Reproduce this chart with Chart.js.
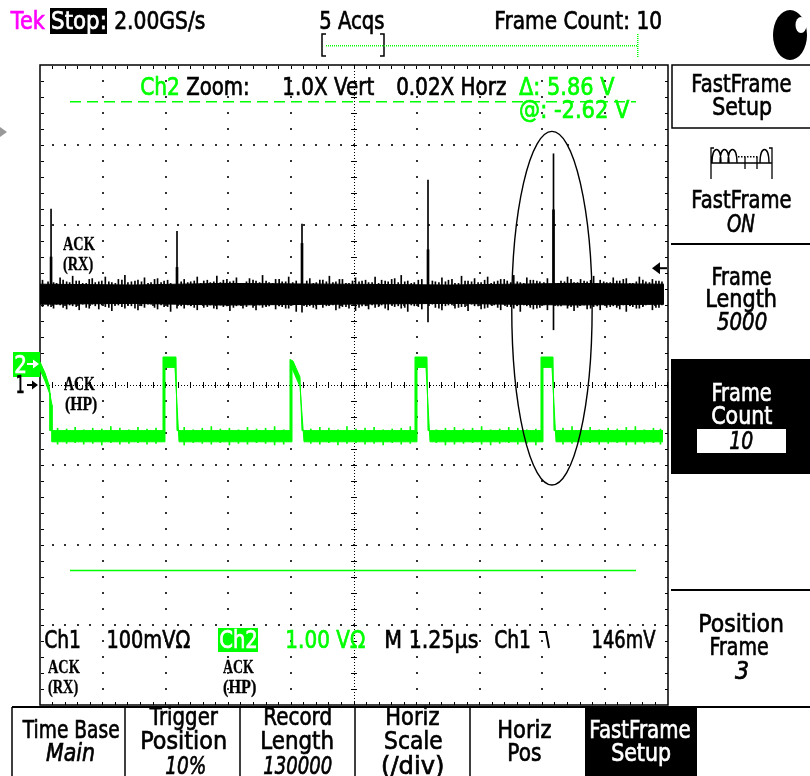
<!DOCTYPE html>
<html>
<head>
<meta charset="utf-8">
<script src="https://cdn.jsdelivr.net/npm/chart.js@4.4.0/dist/chart.umd.min.js"></script>
<style>
  html, body { margin: 0; padding: 0; background: #fff; }
  canvas { display: block; }
</style>
</head>
<body>
<canvas id="scope" width="810" height="776"></canvas>
<script>
const GREEN = '#00ff00';

// horizontal divisions, µs (1.25 µs/div, trigger at 10 %)
const timeDivs = [-1.25, 0, 1.25, 2.5, 3.75, 5, 6.25, 7.5, 8.75, 10, 11.25];
// vertical divisions for Ch1, mV (100 mV/div)
const ch1Divs = [-400, -300, -200, -100, 0, 100, 200, 300, 400];
// Ch2 screen range, V (1 V/div, ground 0.3 div above centre)
const ch2Range = [-4.3, 3.7];

// Ch1 (ACK RX) : noisy band, spikes, trigger level
const ch1CoreTime = [-1.25, 0.6, 2.4, 4.7, 6.9, 9.3, 11.17];
const ch1CoreHigh = [126, 125, 127, 126, 125, 127, 126];
const ch1CoreLow = [101, 102, 100, 101, 102, 100, 101];

const ch1HairTime = [
  -1.20, -0.98, -0.85, -0.72, -0.60, -0.47, -0.33, -0.21, -0.08, 0.05,
  0.18, 0.31, 0.44, 0.57, 0.70, 0.83, 0.96, 1.09, 1.22, 1.35,
  1.62, 1.75, 1.88, 2.01, 2.14, 2.27, 2.40, 2.53, 2.66, 2.79,
  2.92, 3.05, 3.18, 3.31, 3.44, 3.57, 3.70, 3.85, 4.12, 4.25,
  4.38, 4.51, 4.64, 4.77, 4.90, 5.03, 5.16, 5.29, 5.42, 5.55,
  5.68, 5.81, 5.94, 6.07, 6.20, 6.35, 6.62, 6.75, 6.88, 7.01,
  7.14, 7.27, 7.40, 7.53, 7.66, 7.79, 7.92, 8.05, 8.18, 8.31,
  8.44, 8.57, 8.70, 8.85, 9.12, 9.25, 9.38, 9.51, 9.64, 9.77,
  9.90, 10.03, 10.16, 10.29, 10.42, 10.55, 10.68, 10.81, 10.94, 11.07,
];
const ch1HairHigh = [
  131, 128, 134, 129, 136, 130, 127, 133, 129, 135,
  128, 132, 137, 129, 131, 134, 128, 133, 130, 127,
  132, 129, 135, 130, 128, 136, 131, 129, 134, 127,
  133, 130, 137, 128, 132, 129, 135, 130, 133, 128,
  131, 136, 129, 132, 127, 134, 130, 128, 135, 131,
  129, 133, 137, 130, 128, 132, 129, 134, 131, 127,
  136, 130, 133, 128, 135, 129, 132, 130, 137, 128,
  134, 131, 129, 133, 130, 135, 128, 132, 129, 136,
  131, 128, 134, 130, 133, 127, 135, 129, 132, 130,
];
const ch1HairLow = [
  98, 96, 100, 95, 99, 94, 97, 101, 95, 98,
  93, 100, 96, 99, 94, 97, 101, 95, 98, 92,
  96, 99, 94, 97, 100, 95, 98, 93, 99, 96,
  101, 94, 97, 99, 95, 98, 96, 92, 99, 95,
  97, 100, 94, 98, 96, 93, 99, 95, 97, 100,
  94, 98, 96, 92, 99, 95, 97, 94, 100, 96,
  98, 93, 99, 95, 97, 100, 94, 98, 96, 92,
  99, 95, 97, 94, 99, 96, 93, 100, 95, 98,
  94, 97, 99, 95, 92, 98, 96, 100, 94, 97,
];

// finer, shorter noise between the hairs above
const ch1FuzzTime = [
  -1.09, -0.92, -0.79, -0.66, -0.53, -0.40, -0.27, -0.15, -0.02, 0.12,
  0.25, 0.38, 0.50, 0.64, 0.77, 0.90, 1.03, 1.16, 1.29, 1.56,
  1.69, 1.82, 1.95, 2.08, 2.21, 2.34, 2.47, 2.60, 2.73, 2.86,
  2.99, 3.12, 3.25, 3.38, 3.51, 3.64, 3.78, 4.06, 4.19, 4.32,
  4.45, 4.58, 4.71, 4.84, 4.97, 5.10, 5.23, 5.36, 5.49, 5.62,
  5.75, 5.88, 6.01, 6.14, 6.28, 6.56, 6.69, 6.82, 6.95, 7.08,
  7.21, 7.34, 7.47, 7.60, 7.73, 7.86, 7.99, 8.12, 8.25, 8.38,
  8.51, 8.64, 8.78, 9.06, 9.19, 9.32, 9.45, 9.58, 9.71, 9.84,
  9.97, 10.10, 10.23, 10.36, 10.49, 10.62, 10.75, 10.88, 11.01, 11.13,
];
const ch1FuzzHigh = [
  129, 127, 131, 128, 130, 127, 132, 128, 130, 129,
  127, 131, 128, 130, 129, 127, 132, 128, 131, 129,
  128, 130, 127, 131, 129, 128, 132, 130, 127, 129,
  131, 128, 130, 127, 132, 129, 128, 130, 127, 131,
  129, 128, 132, 127, 130, 129, 131, 128, 127, 130,
  132, 128, 129, 127, 131, 130, 128, 129, 132, 127,
  130, 129, 128, 131, 127, 130, 132, 128, 129, 127,
  131, 130, 128, 127, 129, 132, 128, 130, 131, 127,
  129, 128, 130, 132, 127, 129, 131, 128, 130, 129,
];
const ch1FuzzLow = [
  99, 101, 97, 100, 98, 101, 96, 99, 100, 97,
  101, 98, 100, 96, 99, 101, 97, 100, 98, 99,
  100, 97, 101, 98, 96, 100, 99, 97, 101, 98,
  97, 100, 98, 101, 99, 96, 100, 98, 97, 101,
  99, 100, 96, 98, 101, 97, 99, 100, 98, 96,
  101, 99, 97, 100, 98, 101, 96, 99, 100, 97,
  98, 101, 99, 96, 100, 97, 101, 98, 99, 100,
  97, 96, 100, 99, 101, 98, 97, 100, 96, 99,
  101, 98, 97, 100, 99, 96, 98, 101, 97, 100,
];

const ch1SpikeTime = [-1.03, 1.477, 3.965, 6.473, 8.971];
const ch1SpikePeak = [220, 192, 201, 256, 289];
const ch1SpikeBody = [160, 147, 177, 169, 219];
const ch1SpikeBase = [118, 118, 118, 118, 118];
const ch1SpikeTrough = [98, 96, 91, 79, 69];
const ch1TriggerLevel = 146;

// Ch2 (ACK HP) : pulse train drawn as upper and lower edge of the trace
const ch2TopTime = [-1.25, -1.15, -1.071, -1.051, -1.051, 1.198, 1.198, 1.457, 1.477, 3.726, 3.726, 3.786, 3.925, 3.965, 6.214, 6.214, 6.453, 6.473, 8.722, 8.722, 8.961, 8.981, 11.15];
const ch2TopLevel = [-0.01, -0.15, -0.30, -0.40, -0.87, -0.87, 0.05, 0.05, -0.87, -0.87, 0.02, 0.0, -0.2, -0.87, -0.87, 0.05, 0.05, -0.87, -0.87, 0.05, 0.05, -0.87, -0.87];
const ch2BottomTime = [-1.25, -1.15, -1.051, -1.011, -1.011, 1.238, 1.238, 1.437, 1.517, 3.766, 3.766, 3.925, 4.005, 6.254, 6.254, 6.433, 6.513, 8.762, 8.762, 8.941, 9.021, 11.15];
const ch2BottomLevel = [-0.11, -0.25, -0.42, -0.55, -1.01, -1.01, -0.08, -0.08, -1.01, -1.01, -0.09, -0.32, -1.01, -1.01, -0.08, -0.08, -1.01, -1.01, -0.08, -0.08, -1.01, -1.01];

const ch2HairTime = [
  -0.90, -0.72, -0.55, -0.38, -0.20, -0.02, 0.16, 0.34, 0.52, 0.70, 0.88, 1.06,
  1.62, 1.80, 1.98, 2.16, 2.34, 2.52, 2.70, 2.88, 3.06, 3.24, 3.42, 3.60,
  4.14, 4.32, 4.50, 4.68, 4.86, 5.04, 5.22, 5.40, 5.58, 5.76, 5.94, 6.12,
  6.64, 6.82, 7.00, 7.18, 7.36, 7.54, 7.72, 7.90, 8.08, 8.26, 8.44, 8.62,
  9.16, 9.34, 9.52, 9.70, 9.88, 10.06, 10.24, 10.42, 10.60, 10.78, 10.96, 11.10,
];
const ch2HairHigh = [
  -0.84, -0.85, -0.83, -0.86, -0.84, -0.85, -0.82, -0.84, -0.86, -0.83, -0.85, -0.84,
  -0.83, -0.86, -0.84, -0.82, -0.85, -0.84, -0.86, -0.83, -0.85, -0.84, -0.82, -0.86,
  -0.85, -0.83, -0.84, -0.86, -0.82, -0.85, -0.84, -0.83, -0.86, -0.85, -0.84, -0.82,
  -0.86, -0.84, -0.83, -0.85, -0.84, -0.82, -0.86, -0.85, -0.83, -0.84, -0.86, -0.85,
  -0.84, -0.82, -0.85, -0.83, -0.86, -0.84, -0.85, -0.83, -0.82, -0.86, -0.84, -0.85,
];
const ch2HairLow = [
  -1.04, -1.03, -1.02, -1.04, -1.03, -1.05, -1.02, -1.04, -1.03, -1.02, -1.04, -1.03,
  -1.05, -1.02, -1.03, -1.04, -1.02, -1.05, -1.03, -1.04, -1.02, -1.03, -1.05, -1.04,
  -1.03, -1.04, -1.02, -1.05, -1.03, -1.02, -1.04, -1.03, -1.05, -1.02, -1.04, -1.03,
  -1.02, -1.05, -1.04, -1.03, -1.02, -1.04, -1.05, -1.03, -1.02, -1.04, -1.03, -1.05,
  -1.04, -1.03, -1.05, -1.02, -1.04, -1.03, -1.02, -1.05, -1.04, -1.03, -1.02, -1.04,
];

// Ch2 cursors: Δ 5.86 V, @ -2.62 V
const cursorLevels = [3.24, -2.62];
const cursorSpan = [-0.653, 10.613];

// ----------------------------------------------------------------

const pts = (xs, ys) => xs.map((x, i) => ({ x, y: ys[i] }));
const bars = (xs, hi, lo) => xs.map((x, i) => ({ x, y: [lo[i], hi[i]] }));

function trace(data, color, yAxisID, extra = {}) {
  return { type: 'line', data, yAxisID, borderColor: color, backgroundColor: color, borderWidth: 1, pointRadius: 0, fill: false, ...extra };
}

function hair(data, color, yAxisID, w) {
  return { type: 'bar', data, yAxisID, backgroundColor: color, borderWidth: 0, barThickness: w, grouped: false };
}

// text squeezed to the width it has on the scope screen
function fit(ctx, s, x0, x1, base, o = {}) {
  const size = o.size || 24;
  const fam = o.serif ? '"Liberation Serif"' : '"DejaVu Sans"';
  const color = o.color || '#000';
  ctx.save();
  ctx.font = `${o.italic ? 'italic ' : ''}${o.bold ? 'bold ' : ''}${size}px ${fam}`;
  ctx.fillStyle = color;
  ctx.strokeStyle = color;
  ctx.lineWidth = o.serif ? 0.3 : 0.7;
  ctx.textAlign = 'left';
  ctx.textBaseline = 'alphabetic';
  const m = ctx.measureText(s);
  const ink = m.actualBoundingBoxLeft + m.actualBoundingBoxRight;
  ctx.translate(x0, base);
  ctx.scale((x1 - x0) / ink, 1);
  ctx.fillText(s, m.actualBoundingBoxLeft, 0);
  ctx.strokeText(s, m.actualBoundingBoxLeft, 0);
  ctx.restore();
}

function rect(ctx, x, y, w, h, color) {
  ctx.fillStyle = color;
  ctx.fillRect(x, y, w, h);
}

function line(ctx, x0, y0, x1, y1, w = 1.5, color = '#000') {
  ctx.save();
  ctx.strokeStyle = color;
  ctx.lineWidth = w;
  ctx.beginPath();
  ctx.moveTo(x0, y0);
  ctx.lineTo(x1, y1);
  ctx.stroke();
  ctx.restore();
}

function arrowHead(ctx, x, y, dir, len, half, color) {
  ctx.fillStyle = color;
  ctx.beginPath();
  ctx.moveTo(x, y);
  ctx.lineTo(x - dir * len, y - half);
  ctx.lineTo(x - dir * len, y + half);
  ctx.closePath();
  ctx.fill();
}

function drawGraticule(chart) {
  const { ctx, chartArea: a, scales } = chart;
  const xs = timeDivs.map((t) => scales.x.getPixelForValue(t));
  const ys = ch1Divs.map((v) => scales.y.getPixelForValue(v));
  const dx = (xs[1] - xs[0]) / 5;
  const dy = (ys[0] - ys[1]) / 5;
  const dot = (x, y, w, h, c) => { ctx.fillStyle = c; ctx.fillRect(Math.round(x - w / 2), Math.round(y - h / 2), w, h); };
  ctx.save();
  xs.forEach((x, i) => {
    if (i === 0 || i === xs.length - 1 || i === 5) return;
    for (let y = a.top + dy; y < a.bottom - 1; y += dy) dot(x, y, 2, 2, '#333');
  });
  ys.forEach((y, i) => {
    if (i === 0 || i === ys.length - 1 || i === 4) return;
    for (let x = a.left + dx; x < a.right - 1; x += dx) dot(x, y, 2, 2, '#333');
  });
  const cx = xs[5];
  const cy = ys[4];
  for (let y = a.top; y <= a.bottom; y += 3) dot(cx, y, 1, 1, '#000');
  for (let x = a.left; x <= a.right; x += 3) dot(x, cy, 1, 1, '#000');
  for (let y = a.top + dy; y < a.bottom; y += dy) dot(cx, y, 6, 1, '#000');
  for (let x = a.left + dx; x < a.right; x += dx) dot(x, cy, 1, 6, '#000');
  for (let x = a.left + dx; x < a.right - 1; x += dx) { dot(x, a.top + 2, 1, 3, '#000'); dot(x, a.bottom - 2, 1, 3, '#000'); }
  for (let y = a.top + dy; y < a.bottom - 1; y += dy) { dot(a.left + 2, y, 3, 1, '#000'); dot(a.right - 2, y, 3, 1, '#000'); }
  ctx.strokeStyle = '#000';
  ctx.lineWidth = 1.5;
  ctx.strokeRect(a.left, a.top, a.right - a.left, a.bottom - a.top);
  ctx.restore();
}

function drawMarks(chart) {
  const { ctx, scales } = chart;
  // hand-drawn ellipse round the last frame
  const ex = scales.x.getPixelForValue(8.94);
  const ey = scales.y.getPixelForValue(96);
  const rx = scales.x.getPixelForValue(8.94 + 0.8) - ex;
  const ry = ey - scales.y.getPixelForValue(96 + 221);
  ctx.save();
  ctx.strokeStyle = '#000';
  ctx.lineWidth = 1.4;
  ctx.beginPath();
  ctx.ellipse(ex, ey, rx, ry, 0, 0, Math.PI * 2);
  ctx.stroke();

  // trigger level arrow
  const ty = scales.y.getPixelForValue(ch1TriggerLevel);
  line(ctx, 657, ty, 667, ty, 2);
  arrowHead(ctx, 652, ty, -1, 8, 6, '#000');

  // channel ground markers
  const g2 = scales.y2.getPixelForValue(0);
  rect(ctx, 13, g2 - 9, 27, 25, GREEN);
  fit(ctx, '2', 15, 25, g2 + 12, { color: '#fff', size: 24 });
  line(ctx, 27, g2 + 3, 35, g2 + 3, 2, '#fff');
  arrowHead(ctx, 39, g2 + 3, 1, 6, 4.5, '#fff');

  const g1 = scales.y.getPixelForValue(0);
  fit(ctx, '1', 17, 24, g1 + 8, { size: 24 });
  line(ctx, 27, g1, 34, g1, 2);
  arrowHead(ctx, 38, g1, 1, 6, 4.5, '#000');

  // gray off-screen arrow on the left
  arrowHead(ctx, 7, 132, 1, 7, 5, '#999');
  ctx.restore();
}

function drawFrameIcon(ctx) {
  ctx.save();
  ctx.strokeStyle = '#000';
  ctx.lineWidth = 1.3;
  ctx.beginPath();
  ctx.moveTo(714, 148); ctx.lineTo(711, 148); ctx.lineTo(711, 179);
  ctx.moveTo(769, 148); ctx.lineTo(772, 148); ctx.lineTo(772, 179);
  ctx.moveTo(711, 163); ctx.lineTo(772, 163);
  [712, 720, 728, 760].forEach((x0) => {
    ctx.moveTo(x0, 163);
    ctx.bezierCurveTo(x0, 145, x0 + 9, 145, x0 + 9, 163);
  });
  ctx.moveTo(745, 157); ctx.lineTo(745, 169);
  ctx.moveTo(757, 157); ctx.lineTo(757, 169);
  ctx.stroke();
  ctx.fillStyle = '#000';
  for (let x = 738; x < 757; x += 3) ctx.fillRect(x, 156, 1.5, 1.5);
  ctx.restore();
}

function drawText(chart) {
  const ctx = chart.ctx;
  // header
  fit(ctx, 'Tek', 10, 45, 29, { color: '#ff00ff' });
  rect(ctx, 50, 8, 57, 26, '#000');
  fit(ctx, 'Stop:', 52, 105, 29, { color: '#fff' });
  fit(ctx, '2.00GS/s', 115, 205, 29);
  fit(ctx, '5 Acqs', 320, 384, 29);
  fit(ctx, 'Frame Count: 10', 496, 661, 29);
  ctx.save();
  ctx.strokeStyle = '#000';
  ctx.lineWidth = 1.5;
  ctx.beginPath();
  ctx.moveTo(326, 34); ctx.lineTo(322, 34); ctx.lineTo(322, 56); ctx.lineTo(326, 56);
  ctx.moveTo(380, 34); ctx.lineTo(384, 34); ctx.lineTo(384, 56); ctx.lineTo(380, 56);
  ctx.stroke();
  ctx.fillStyle = GREEN;
  for (let x = 326; x < 637; x += 2) ctx.fillRect(x, 45, 1, 1.5);
  for (let y = 34; y < 57; y += 2) ctx.fillRect(637, y, 1.5, 1);
  ctx.restore();

  // top-right status blob
  ctx.save();
  ctx.fillStyle = '#000';
  ctx.beginPath(); ctx.ellipse(790, 35, 17, 25, 0, 0, Math.PI * 2); ctx.fill();
  ctx.fillStyle = '#fff';
  ctx.beginPath(); ctx.ellipse(801, 25, 5.5, 8, 0, 0, Math.PI * 2); ctx.fill();
  ctx.restore();

  // zoom / cursor readout
  fit(ctx, 'Ch2', 141, 178, 95, { color: GREEN });
  fit(ctx, 'Zoom:', 187, 248, 95);
  fit(ctx, '1.0X Vert', 284, 374, 95);
  fit(ctx, '0.02X Horz', 397, 506, 95);
  fit(ctx, 'Δ: 5.86 V', 519, 615, 95, { color: GREEN });
  fit(ctx, '@: -2.62 V', 520, 630, 118, { color: GREEN });

  // waveform labels
  const sl = { serif: true, bold: true, size: 19 };
  fit(ctx, 'ACK', 63, 95, 250, sl);
  fit(ctx, '(RX)', 63, 93, 270, sl);
  fit(ctx, 'ACK', 64, 95, 390, sl);
  fit(ctx, '(HP)', 65, 97, 410, sl);
  fit(ctx, 'ACK', 48, 80, 673, sl);
  fit(ctx, '(RX)', 48, 78, 693, sl);
  fit(ctx, 'ACK', 223, 254, 673, sl);
  fit(ctx, '(HP)', 223, 256, 693, sl);

  // channel readout
  fit(ctx, 'Ch1', 45, 80, 648);
  fit(ctx, '100mVΩ', 108, 190, 648);
  rect(ctx, 218, 628, 40, 24, GREEN);
  fit(ctx, 'Ch2', 220, 256, 648, { color: '#fff' });
  fit(ctx, '1.00 VΩ', 287, 365, 648, { color: GREEN });
  fit(ctx, 'M 1.25µs', 386, 478, 648);
  fit(ctx, 'Ch1', 495, 530, 648);
  ctx.save();
  ctx.strokeStyle = '#000';
  ctx.lineWidth = 2;
  ctx.beginPath(); ctx.moveTo(539, 632); ctx.lineTo(546, 632); ctx.lineTo(549, 648); ctx.stroke();
  ctx.restore();
  fit(ctx, '146mV', 593, 656, 648);

  // side menu
  ctx.save();
  ctx.strokeStyle = '#000';
  ctx.lineWidth = 1.5;
  ctx.strokeRect(672, 65, 140, 63);
  ctx.restore();
  fit(ctx, 'FastFrame', 693, 791, 92);
  fit(ctx, 'Setup', 713, 771, 115);
  drawFrameIcon(ctx);
  fit(ctx, 'FastFrame', 693, 791, 208);
  fit(ctx, 'ON', 727, 755, 232, { italic: true });
  line(ctx, 671, 244, 810, 244, 2);
  fit(ctx, 'Frame', 713, 771, 285);
  fit(ctx, 'Length', 707, 776, 307);
  fit(ctx, '5000', 717, 767, 330, { italic: true });
  rect(ctx, 671, 359, 139, 115, '#000');
  fit(ctx, 'Frame', 713, 771, 401, { color: '#fff' });
  fit(ctx, 'Count', 712, 772, 424, { color: '#fff' });
  rect(ctx, 697, 429, 89, 24, '#fff');
  fit(ctx, '10', 730, 753, 449, { italic: true });
  line(ctx, 671, 590, 810, 590, 2);
  fit(ctx, 'Position', 700, 783, 632);
  fit(ctx, 'Frame', 711, 768, 655);
  fit(ctx, '3', 735, 748, 679, { italic: true });

  // bottom menu
  line(ctx, 12, 707, 810, 707, 2);
  [12, 125, 240, 355, 470].forEach((x) => line(ctx, x, 707, x, 776, 1.5));
  fit(ctx, 'Time Base', 22, 119, 738);
  fit(ctx, 'Main', 46, 94, 761, { italic: true });
  fit(ctx, 'Trigger', 149, 218, 725);
  fit(ctx, 'Position', 142, 226, 749);
  fit(ctx, '10%', 166, 205, 774, { italic: true });
  fit(ctx, 'Record', 265, 331, 725);
  fit(ctx, 'Length', 262, 333, 749);
  fit(ctx, '130000', 264, 332, 774, { italic: true });
  fit(ctx, 'Horiz', 387, 439, 725);
  fit(ctx, 'Scale', 385, 442, 749);
  fit(ctx, '(/div)', 383, 443, 774);
  fit(ctx, 'Horiz', 499, 551, 738);
  fit(ctx, 'Pos', 509, 541, 761);
  rect(ctx, 585, 707, 112, 69, '#000');
  fit(ctx, 'FastFrame', 591, 690, 738, { color: '#fff' });
  fit(ctx, 'Setup', 612, 670, 761, { color: '#fff' });
}

const scopeScreen = {
  id: 'scopeScreen',
  beforeDraw(chart) {
    rect(chart.ctx, 0, 0, chart.width, chart.height, '#fff');
  },
  beforeDatasetsDraw(chart) {
    drawGraticule(chart);
  },
  afterDatasetsDraw(chart) {
    drawMarks(chart);
  },
  afterDraw(chart) {
    drawText(chart);
  },
};

const datasets = [
  trace(cursorSpan.map((t) => ({ x: t, y: cursorLevels[0] })), GREEN, 'y2', { borderWidth: 1.5, borderDash: [11, 6] }),
  trace(cursorSpan.map((t) => ({ x: t, y: cursorLevels[1] })), GREEN, 'y2', { borderWidth: 1.5 }),
  trace(pts(ch2TopTime, ch2TopLevel), GREEN, 'y2', { fill: '+1' }),
  trace(pts(ch2BottomTime, ch2BottomLevel), GREEN, 'y2'),
  hair(bars(ch2HairTime, ch2HairHigh, ch2HairLow), GREEN, 'y2', 1),
  hair(bars(ch1SpikeTime, ch1SpikeBody, ch1SpikeBase), '#000', 'y', 2),
  hair(bars(ch1SpikeTime, ch1SpikePeak, ch1SpikeTrough), '#000', 'y', 1),
  trace(pts(ch1CoreTime, ch1CoreHigh), '#000', 'y', { fill: '+1' }),
  trace(pts(ch1CoreTime, ch1CoreLow), '#000', 'y'),
  hair(bars(ch1HairTime, ch1HairHigh, ch1HairLow), '#000', 'y', 1),
  hair(bars(ch1FuzzTime, ch1FuzzHigh, ch1FuzzLow), '#000', 'y', 1),
];

new Chart(document.getElementById('scope'), {
  type: 'line',
  data: { datasets },
  options: {
    responsive: false,
    animation: false,
    devicePixelRatio: 1,
    events: [],
    layout: { padding: { left: 40, top: 65, right: 142, bottom: 71 } },
    plugins: { legend: { display: false }, tooltip: { enabled: false } },
    scales: {
      x: { type: 'linear', min: timeDivs[0], max: timeDivs[timeDivs.length - 1], offset: false, display: false },
      y: { type: 'linear', min: ch1Divs[0], max: ch1Divs[ch1Divs.length - 1], display: false },
      y2: { type: 'linear', min: ch2Range[0], max: ch2Range[1], display: false },
    },
  },
  plugins: [scopeScreen],
});
</script>
</body>
</html>
